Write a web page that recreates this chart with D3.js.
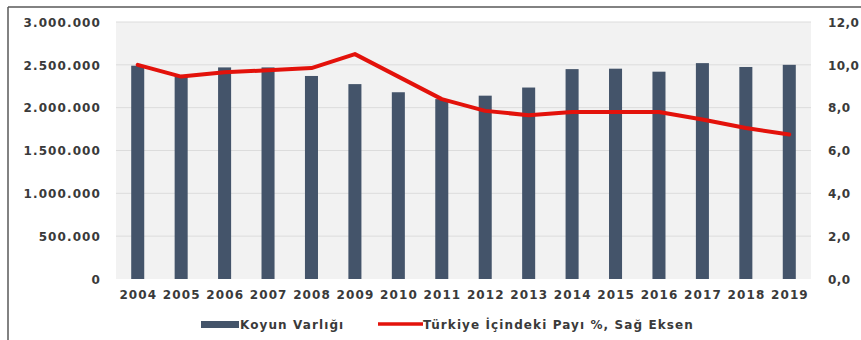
<!DOCTYPE html>
<html>
<head>
<meta charset="utf-8">
<script src="https://cdn.jsdelivr.net/npm/d3@7"></script>
<style>
  html, body { margin: 0; padding: 0; background: #ffffff; }
  svg text { font-family: "DejaVu Sans", Verdana, sans-serif; font-weight: bold; fill: #3a3a3a; font-size: 12px; letter-spacing: 1.1px; }
  svg .right-axis text { letter-spacing: 0.4px; }
</style>
</head>
<body>
<svg id="chart" width="861" height="340"></svg>
<script>
// Yearly sheep stock and the region's share of Türkiye's total (%)
const years = ["2004","2005","2006","2007","2008","2009","2010","2011","2012","2013","2014","2015","2016","2017","2018","2019"];
const sheepCount = [2490000, 2365000, 2470000, 2470000, 2370000, 2275000, 2180000, 2100000, 2140000, 2235000, 2450000, 2455000, 2420000, 2520000, 2475000, 2500000];
const sharePct = [10.0, 9.45, 9.65, 9.75, 9.85, 10.5, 9.45, 8.4, 7.85, 7.65, 7.8, 7.8, 7.8, 7.45, 7.05, 6.75];
const leftTicks = [0, 500000, 1000000, 1500000, 2000000, 2500000, 3000000];
const rightTicks = [0, 2, 4, 6, 8, 10, 12];
const seriesNames = ["Koyun Varlığı", "Türkiye İçindeki Payı %, Sağ Eksen"];

const svg = d3.select("#chart");
const plot = { left: 116, right: 811, top: 22, bottom: 279 };

const x = d3.scaleBand().domain(years).range([plot.left, plot.right]).paddingInner(0.7).paddingOuter(0.35);
const yL = d3.scaleLinear().domain([0, 3000000]).range([plot.bottom, plot.top]);
const yR = d3.scaleLinear().domain([0, 12]).range([plot.bottom, plot.top]);

const trLocale = d3.formatLocale({ decimal: ",", thousands: ".", grouping: [3], currency: ["", ""] });
const fmtL = trLocale.format(",.0f");
const fmtR = trLocale.format(".1f");

// outer frame (top and left edges)
svg.append("line").attr("x1", 8).attr("x2", 861).attr("y1", 7).attr("y2", 7)
  .attr("stroke", "#595959").attr("stroke-width", 1.5);
svg.append("line").attr("x1", 8).attr("x2", 8).attr("y1", 7).attr("y2", 340)
  .attr("stroke", "#595959").attr("stroke-width", 1.5);

// plot background
svg.append("rect").attr("x", plot.left).attr("y", plot.top)
  .attr("width", plot.right - plot.left).attr("height", plot.bottom - plot.top)
  .attr("fill", "#f2f2f2");

// gridlines
svg.append("g").selectAll("line").data(leftTicks.slice(1)).join("line")
  .attr("x1", plot.left).attr("x2", plot.right)
  .attr("y1", d => yL(d)).attr("y2", d => yL(d))
  .attr("stroke", "#dcdcdc").attr("stroke-width", 1);

// left axis
const axL = svg.append("g").attr("transform", `translate(${plot.left - 15},0)`)
  .call(d3.axisLeft(yL).tickValues(leftTicks).tickFormat(fmtL).tickSize(0).tickPadding(0));
axL.select(".domain").remove();
axL.selectAll("text").attr("dy", "0.35em");

// right axis
const axR = svg.append("g").attr("class", "right-axis").attr("transform", `translate(${plot.right + 17},0)`)
  .call(d3.axisRight(yR).tickValues(rightTicks).tickFormat(fmtR).tickSize(0).tickPadding(0));
axR.select(".domain").remove();
axR.selectAll("text").attr("dy", "0.35em");

// bottom axis
const axB = svg.append("g").attr("transform", `translate(0,${plot.bottom})`)
  .call(d3.axisBottom(x).tickSize(0).tickPadding(16));
axB.select(".domain").remove();
axB.selectAll("text").attr("dy", "0.35em").attr("dx", "0.05em");

// bars
svg.append("g").selectAll("rect").data(years).join("rect")
  .attr("x", d => x(d)).attr("width", x.bandwidth())
  .attr("y", (d, i) => yL(sheepCount[i]))
  .attr("height", (d, i) => yL(0) - yL(sheepCount[i]))
  .attr("fill", "#44546a");

// share line
const line = d3.line()
  .x((d, i) => x(years[i]) + x.bandwidth() / 2)
  .y(d => yR(d))
  .curve(d3.curveLinear);
svg.append("path").datum(sharePct).attr("d", line)
  .attr("fill", "none").attr("stroke", "#e3120b").attr("stroke-width", 4)
  .attr("stroke-linejoin", "round").attr("stroke-linecap", "round");

// legend
const lg = svg.append("g");
lg.append("rect").attr("x", 201).attr("y", 321).attr("width", 38).attr("height", 7).attr("fill", "#44546a");
lg.append("text").attr("x", 240).attr("y", 324.5).attr("dy", "0.35em").text(seriesNames[0]);
lg.append("line").attr("x1", 378).attr("x2", 423).attr("y1", 324).attr("y2", 324)
  .attr("stroke", "#e3120b").attr("stroke-width", 3.5);
lg.append("text").attr("x", 423).attr("y", 324.5).attr("dy", "0.35em").text(seriesNames[1]);
</script>
</body>
</html>
